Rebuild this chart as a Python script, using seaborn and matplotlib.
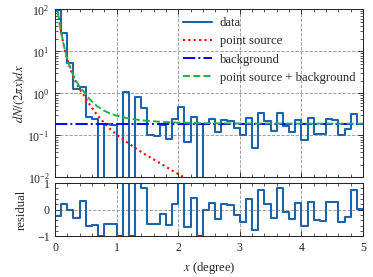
import numpy as np
import matplotlib
matplotlib.use("Agg")
import matplotlib.pyplot as plt
import seaborn as sns

# 50 radial bins of 0.1 degree
bin_edges = np.round(np.arange(51) * 0.1, 2)

# dN/(2 pi x)dx per bin
counts = [96, 27, 5.2, 1.3, 1.4, 0.28, 0.25, 0, 0.19, 0.18,
          0, 1.1, 0, 0.81, 0.44, 0.10, 0.095, 0.175, 0.083, 0.24,
          0.47, 0.069, 0.28, 0, 0.19, 0.24, 0.12, 0.235, 0.22, 0.148,
          0.10, 0.26, 0.05, 0.34, 0.22, 0.13, 0.35, 0.166, 0.12, 0.23,
          0.076, 0.26, 0.11, 0.106, 0.24, 0.23, 0.10, 0.14, 0.32, 0.19]

# (data - model) / model per bin
residual = [-0.22, 0.22, 0.0, -0.31, 0.31, -0.6, -0.57, -1.0, -0.52, -0.54,
            -1.0, 2.3, -1.0, 1.9, 0.82, -0.54, -0.54, -0.15, -0.57, 0.2,
            1.4, -0.63, 0.44, -1.0, 0.0, 0.24, -0.36, 0.2, 0.16, -0.18,
            -0.47, 0.4, -0.74, 0.75, 0.2, -0.3, 0.82, -0.1, -0.36, 0.25,
            -0.6, 0.28, -0.4, -0.42, 0.3, 0.28, -0.46, -0.29, 0.72, 0.02]

# point source model curve
model_x = [0.02, 0.04, 0.08, 0.12, 0.16, 0.2, 0.24, 0.28, 0.32, 0.36,
           0.4, 0.46, 0.52, 0.57, 0.63, 0.68, 0.75, 0.81, 0.89, 1.0,
           1.14, 1.28, 1.44, 1.6, 1.8, 2.0, 2.2, 2.4, 2.6, 3.0, 4.0, 5.0]
point_source = [150, 95, 42, 20, 10.6, 6.3, 4.2, 2.9, 2.1, 1.6,
                1.25, 0.95, 0.68, 0.52, 0.4, 0.31, 0.24, 0.19, 0.145, 0.105,
                0.074, 0.053, 0.037, 0.027, 0.018, 0.012, 0.0085, 0.0062, 0.0046, 0.003, 0.0013, 0.0007]
background = 0.19
bg_x = [0.0, 5.0]

sns.set_style("ticks")
plt.rcParams['font.family'] = ['Liberation Serif', 'DejaVu Serif']
plt.rcParams['mathtext.fontset'] = 'stix'
plt.rcParams['font.size'] = 8.5
plt.rcParams['axes.linewidth'] = 0.7

step_y = counts + [counts[-1]]
res_y = residual + [residual[-1]]
total = [p + background for p in point_source]

fig = plt.figure(figsize=(3.5, 2.6), dpi=373 / 3.5)
ax1 = fig.add_axes([0.1475, 0.3592, 0.8257, 0.6065])
ax2 = fig.add_axes([0.1475, 0.1462, 0.8257, 0.1932])

data_color = '#1f63a8'
sns.lineplot(x=bin_edges, y=step_y, drawstyle='steps-post', estimator=None,
             color=data_color, lw=1.4, ax=ax1, label='data')
sns.lineplot(x=model_x, y=point_source, estimator=None, color='red',
             ls=(0, (1, 1.6)), lw=1.4, ax=ax1, label='point source')
sns.lineplot(x=bg_x, y=[background, background], estimator=None, color='blue',
             ls='-.', lw=1.3, ax=ax1, label='background')
sns.lineplot(x=model_x, y=total, estimator=None, color='#1db34a',
             ls='--', lw=1.3, ax=ax1, label='point source + background')

ax1.set_yscale('log')
ax1.set_xlim(0, 5)
ax1.set_ylim(1e-2, 1e2)
ax1.set_ylabel(r'$dN/(2\pi x)dx$')
ax1.set_xlabel('')
ax1.set_xticks([0, 1, 2, 3, 4, 5])
ax1.set_xticks(np.arange(0, 5.01, 0.2), minor=True)
ax1.tick_params(labelbottom=False)
ax1.legend(loc='upper right', frameon=False, handlelength=2.3,
           handletextpad=0.65, borderaxespad=0.2, labelspacing=0.5)

sns.lineplot(x=bin_edges, y=res_y, drawstyle='steps-post', estimator=None,
             color=data_color, lw=1.4, ax=ax2, legend=False)
ax2.set_xlim(0, 5)
ax2.set_ylim(-1, 1)
ax2.set_yticks([-1, 0, 1])
ax2.set_yticks(np.arange(-1, 1.01, 0.2), minor=True)
ax2.set_xticks([0, 1, 2, 3, 4, 5])
ax2.set_xticks(np.arange(0, 5.01, 0.2), minor=True)
ax2.set_xlabel('$x$ (degree)')
ax2.set_ylabel('residual')

for ax in (ax1, ax2):
    ax.grid(True, which='major', color='gray', ls='--', lw=0.6, alpha=0.8)
    ax.tick_params(which='both', direction='in', top=True, right=True)
    ax.tick_params(which='major', length=3.5, width=0.6, labelsize=8)
    ax.tick_params(which='minor', length=1.8, width=0.5)

ax1.yaxis.set_label_coords(-0.09, 0.5)
ax2.yaxis.set_label_coords(-0.09, 0.5)

plt.savefig('out.png', dpi=373 / 3.5)
